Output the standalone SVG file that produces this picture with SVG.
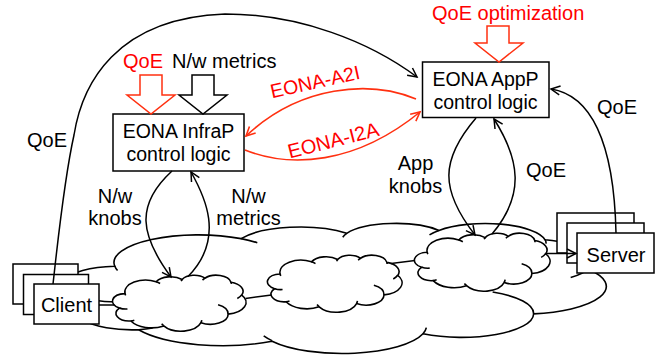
<svg xmlns="http://www.w3.org/2000/svg" width="661" height="355" viewBox="0 0 661 355">
<defs>
<style>
.t{font-family:"Liberation Sans",Arial,sans-serif;font-size:20px;fill:#000}
.tb{font-size:19.5px}
.red{fill:#ff0000}
.box{fill:#fff;stroke:#000;stroke-width:1.5}
.c{fill:none;stroke:#000;stroke-width:1.5}
.cr{fill:none;stroke:#ff3010;stroke-width:1.6}
.blk{fill:#fff;stroke:#000;stroke-width:1.5;stroke-linejoin:miter}
.blr{fill:#fff;stroke:#ff3010;stroke-width:1.5;stroke-linejoin:miter}
</style>
<marker id="ah" markerUnits="userSpaceOnUse" markerWidth="14" markerHeight="14" viewBox="-12 -7 14 14" refX="0" refY="0" orient="auto" overflow="visible">
<path d="M-9,-4.5 L0,0 L-9,4.5" fill="none" stroke="#000" stroke-width="1.5"/>
</marker>
<marker id="ahr" markerUnits="userSpaceOnUse" markerWidth="14" markerHeight="14" viewBox="-12 -7 14 14" refX="0" refY="0" orient="auto" overflow="visible">
<path d="M-9,-4.5 L0,0 L-9,4.5" fill="none" stroke="#ff3010" stroke-width="1.6"/>
</marker>
<path id="cloudShape" fill="#fff" stroke="#000" stroke-width="1.6" vector-effect="non-scaling-stroke" d="M 3900 14370 A 6753 9190 0 0 1 14005 5202 A 5333 7267 0 0 1 22460 3437 A 4365 5945 0 0 1 29837 2487 A 4857 6595 0 0 1 38322 5582 A 5333 7273 0 0 1 41823 15465 A 6775 9220 0 0 1 37408 30208 A 5785 7867 0 0 1 28559 36818 A 6752 9215 0 0 1 16485 39271 A 7720 10543 0 0 1 5810 35479 A 4360 5918 0 0 1 2117 25559 A 4345 5945 0 0 1 3900 14370 Z"/>
<path id="cloudHooks" fill="none" stroke="#000" stroke-width="1.6" vector-effect="non-scaling-stroke" d="M 4693 26177 A 4345 5945 0 0 1 2117 25559 M 6928 34899 A 4360 5918 0 0 1 5810 35479 M 16478 39090 A 6752 9215 0 0 1 15816 37529 M 28827 34751 A 6752 9215 0 0 1 28559 36818 M 34129 22954 A 5785 7867 0 0 1 37408 30208 M 41798 15354 A 5333 7273 0 0 1 40375 18141 M 38324 5426 A 4857 6595 0 0 1 38399 6845 M 29078 3952 A 4857 6595 0 0 1 29837 2487 M 22141 4720 A 4365 5945 0 0 1 22460 3437 M 14000 5192 A 6753 9190 0 0 1 15304 6549 M 4127 15789 A 6753 9190 0 0 1 3886 14224"/>
</defs>

<g id="network-cloud" transform="translate(66,223) scale(0.0125,0.0030093)">
<use href="#cloudShape"/>
<use href="#cloudHooks"/>
</g>
<g id="cloud-1" transform="translate(113,275) scale(0.0030787,0.0012963)">
<use href="#cloudShape"/>
<use href="#cloudHooks"/>
</g>
<g id="cloud-2" transform="translate(268,255) scale(0.0031019,0.0013194)">
<use href="#cloudShape"/>
<use href="#cloudHooks"/>
</g>
<g id="cloud-3" transform="translate(415,233) scale(0.003125,0.0013426)">
<use href="#cloudShape"/>
<use href="#cloudHooks"/>
</g>

<g id="client">
<rect class="box" x="13" y="264" width="65" height="40"/>
<rect class="box" x="23.5" y="274.5" width="65" height="40"/>
<rect class="box" x="34" y="284" width="65" height="40"/>
<text class="t" x="66.5" y="312" text-anchor="middle">Client</text>
</g>
<g id="server">
<rect class="box" x="557" y="213" width="77" height="40"/>
<rect class="box" x="567" y="223" width="77" height="40"/>
<rect class="box" x="577" y="233" width="77" height="40"/>
<text class="t" x="616" y="262" text-anchor="middle">Server</text>
</g>
<g id="infrap">
<rect class="box" x="113" y="114" width="131" height="57"/>
<text class="t tb" x="178.5" y="138" text-anchor="middle">EONA InfraP</text>
<text class="t tb" x="178.5" y="161" text-anchor="middle">control logic</text>
</g>
<g id="appp">
<rect class="box" x="422.5" y="62" width="126.5" height="55.5"/>
<text class="t tb" x="485.5" y="86" text-anchor="middle">EONA AppP</text>
<text class="t tb" x="485.5" y="108.5" text-anchor="middle">control logic</text>
</g>

<g id="connectors">
<polygon class="blr" points="140,75 162,75 162,95 175,95 151,114 127,95 140,95"/>
<polygon class="blk" points="192,75 214,75 214,95 227,95 203,114 179,95 192,95"/>
<polygon class="blr" points="487,26 509,26 509,43 523,43 499,62 475,43 487,43"/>
<path class="c" d="M 53 284 C 58 240, 64 180, 74 135 C 82 85, 115 18, 225 14 C 300 14, 370 42, 417 77" marker-end="url(#ah)"/>
<path class="c" d="M 616 233 C 614 140, 590 95, 551 89" marker-end="url(#ah)"/>
<path class="c" d="M 172 171 C 135 205, 140 235, 171 277" marker-end="url(#ah)"/>
<path class="c" d="M 188 276.5 C 226 238, 204 195, 191 172" marker-end="url(#ah)"/>
<path class="c" d="M 476 118 C 440 160, 440 190, 475 235" marker-end="url(#ah)"/>
<path class="c" d="M 492 234 C 525 195, 520 160, 494 119" marker-end="url(#ah)"/>
<path class="cr" d="M 416 99 C 370 80, 300 85, 246 136" marker-end="url(#ahr)"/>
<path class="cr" d="M 245 150 C 290 168, 355 165, 420 112" marker-end="url(#ahr)"/>
<path class="c" d="M 99 305 L 114.5 305"/>
<path class="c" d="M 245.5 298.5 L 271.5 295"/>
<path class="c" d="M 391 263.5 L 415 260.5"/>
<path class="c" d="M 546 253.5 L 576 253.5" marker-end="url(#ah)"/>
</g>

<g id="labels">
<text class="t red" x="432" y="20">QoE optimization</text>
<text class="t red" x="123" y="68">QoE</text>
<text class="t" x="172" y="68">N/w metrics</text>
<text class="t" x="27" y="147">QoE</text>
<text class="t" x="597" y="114">QoE</text>
<text class="t" x="526" y="177">QoE</text>
<text class="t" x="115" y="203" text-anchor="middle">N/w</text>
<text class="t" x="115" y="225" text-anchor="middle">knobs</text>
<text class="t" x="248.5" y="203" text-anchor="middle">N/w</text>
<text class="t" x="248.5" y="225" text-anchor="middle">metrics</text>
<text class="t" x="415.5" y="170" text-anchor="middle">App</text>
<text class="t" x="415.5" y="192.5" text-anchor="middle">knobs</text>
<text class="t red tb" transform="translate(316.5,88.5) rotate(-12.5)" text-anchor="middle">EONA-A2I</text>
<text class="t red" transform="translate(335,147) rotate(-14.3)" text-anchor="middle">EONA-I2A</text>
</g>
</svg>
